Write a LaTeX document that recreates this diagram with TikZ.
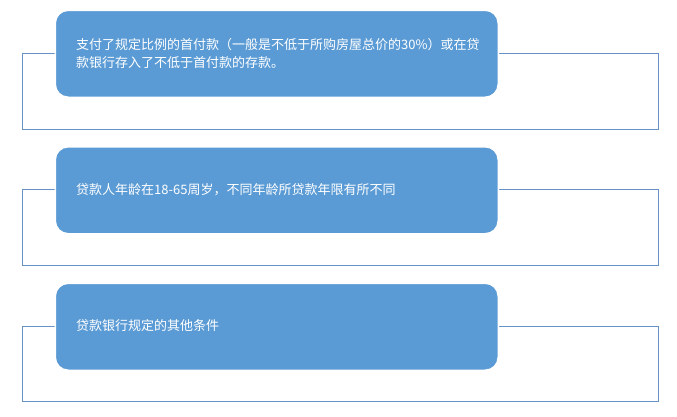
\documentclass[tikz,border=0pt]{standalone}
\usepackage{fontspec}
\setmainfont{Noto Sans CJK SC}
\definecolor{boxblue}{RGB}{91,155,213}
\definecolor{frameblue}{RGB}{103,146,199}

\begin{document}
\begin{tikzpicture}[x=1pt, y=-1pt,
		frame/.style = {draw=frameblue, line width=0.9pt, fill=white},
		itembox/.style = {draw=white, line width=1.5pt, fill=boxblue, rounded corners=13pt,
			anchor=north west, minimum width=443pt, minimum height=87pt, inner sep=0pt},
		itemtext/.style = {anchor=west, text=white, align=left, inner sep=0pt,
			font=\fontsize{13}{18}\selectfont}]
		\useasboundingbox (0,0) rectangle (677,416);
		% outer frames
		\draw[frame] (22.5, 53) rectangle (658.5, 129);
		\draw[frame] (22.5, 189.5) rectangle (658.5, 265.5);
		\draw[frame] (22.5, 326) rectangle (658.5, 401);
		% blue boxes
		\node[itembox] (down) at (54.5, 9.5) {};
		\node[itembox] (age) at (54.5, 146) {};
		\node[itembox] (other) at (54.5, 282.5) {};
		\node[itemtext] (downtext) at (76, 53)
			{支付了规定比例的首付款（一般是不低于所购房屋总价的30\%）或在贷\\款银行存入了不低于首付款的存款。};
		\node[itemtext] (agetext) at (76, 189.5)
			{贷款人年龄在18-65周岁，不同年龄所贷款年限有所不同};
		\node[itemtext] (othertext) at (76, 326)
			{贷款银行规定的其他条件};
	\end{tikzpicture}
\end{document}
